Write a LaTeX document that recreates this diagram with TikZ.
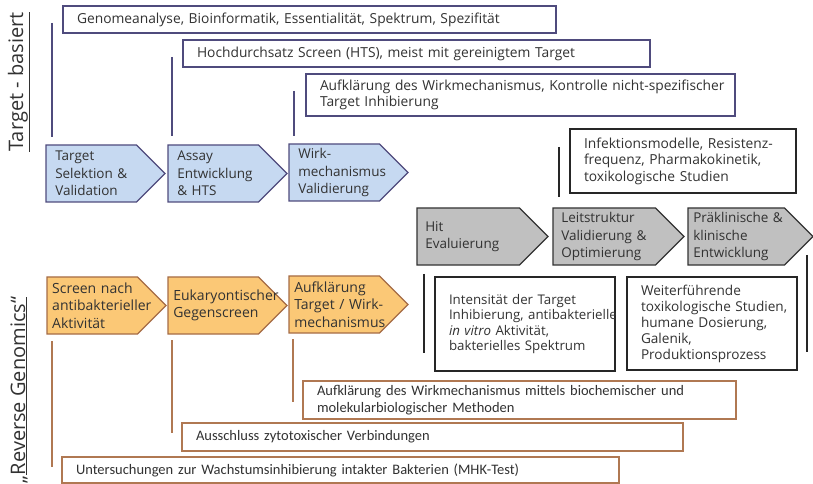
\documentclass[tikz,border=0pt]{standalone}
\usepackage{fontspec}
\setmainfont{Open Sans}
\newfontfamily\narrowfont{Carlito}
\usetikzlibrary{shapes.symbols}
\hyphenpenalty=10000
\exhyphenpenalty=10000
\definecolor{stageblue}{RGB}{198,217,241}
\definecolor{bluedraw}{RGB}{79,75,125}
\definecolor{stageorange}{RGB}{251,200,118}
\definecolor{orangedraw}{RGB}{165,108,70}
\definecolor{stagegray}{RGB}{192,192,192}
\definecolor{notebrown}{RGB}{176,120,82}
\definecolor{labelgray}{RGB}{50,50,50}
\begin{document}
\begin{tikzpicture}[x=1bp,y=-1bp,
		stage/.style={shape=signal, signal to=east, signal pointer angle=90, minimum width=119bp, minimum height=57bp, inner xsep=0pt, inner ysep=2bp, outer sep=0pt, anchor=north west, align=left, line width=1.2bp, text=labelgray, font=\fontsize{13.5bp}{17.5bp}\selectfont},
		bluestage/.style={stage, fill=stageblue, draw=bluedraw, text width=72bp},
		orangestage/.style={stage, fill=stageorange, draw=orangedraw, text width=80bp, font=\fontsize{14bp}{17.5bp}\selectfont},
		graystage/.style={stage, fill=stagegray, draw=black!80, minimum width=131bp, text width=86bp},
		note/.style={rectangle, anchor=north west, inner xsep=14bp, inner ysep=0pt, outer sep=0pt, align=left, fill=white, text=labelgray, font=\fontsize{13.8bp}{16.5bp}\selectfont},
		bluenote/.style={note, draw=bluedraw, line width=1.2bp},
		blacknote/.style={note, draw=black!85, line width=1.5bp},
		brownnote/.style={note, draw=notebrown, line width=1.5bp, font=\narrowfont\fontsize{14.5bp}{17bp}\selectfont},
		bar/.style={line width=1.3bp}
	]
	\useasboundingbox (0,0) rectangle (813,484);

	\node[rotate=90, text=labelgray, font=\fontsize{20bp}{24bp}\selectfont] (tb) at (19,82) {\underline{Target - basiert}};
	\node[rotate=90, text=labelgray, font=\fontsize{20bp}{24bp}\selectfont] (rg) at (19,390) {„\underline{Reverse Genomics“}};

	\node[bluenote, minimum width=493bp, minimum height=27bp, text width=465bp] (genom) at (63,6) {Genomeanalyse, Bioinformatik, Essentialität, Spektrum, Spezifität};
	\node[bluenote, minimum width=467bp, minimum height=27bp, text width=439bp] (hts) at (183,40) {Hochdurchsatz Screen (HTS), meist mit gereinigtem Target};
	\node[bluenote, minimum width=429bp, minimum height=42bp, text width=401bp] (wirk) at (306,74) {\mbox{Aufklärung des Wirkmechanismus, Kontrolle nicht-spezifischer}\\Target Inhibierung};
	\draw[bar, bluedraw] (52,23) -- (52,137);
	\draw[bar, bluedraw] (172,57) -- (172,136);
	\draw[bar, bluedraw] (294,91) -- (294,136);

	\node[bluestage] (sel) at (46,145) {Target\\\mbox{Selektion \&}\\Validation};
	\node[bluestage] (assay) at (168,145) {Assay\\Entwicklung\\\mbox{\& HTS}};
	\node[bluestage] (valid) at (289,144) {Wirk-\\mechanismus\\Validierung};

	\node[blacknote, minimum width=226bp, minimum height=64bp, text width=198bp] (infekt) at (570,129) {Infektionsmodelle, Resistenz-\\frequenz, Pharmakokinetik,\\toxikologische Studien};
	\draw[bar, black!85, line width=1.5bp] (559,147) -- (559,197);

	\node[graystage] (hit) at (417,208) {Hit\\Evaluierung};
	\node[graystage] (lead) at (553,208) {Leitstruktur\\\mbox{Validierung \&}\\Optimierung};
	\node[graystage, minimum width=125bp] (klin) at (688,208) {\mbox{Präklinische \&}\\klinische\\Entwicklung};

	\node[blacknote, minimum width=180bp, minimum height=94bp, text width=152bp, font=\fontsize{13.3bp}{15.5bp}\selectfont] (intens) at (435,277) {Intensität der Target\\\mbox{Inhibierung, antibakterielle}\\\textit{in vitro} Aktivität,\\bakterielles Spektrum};
	\node[blacknote, minimum width=170bp, minimum height=93bp, text width=142bp, font=\fontsize{13.6bp}{16bp}\selectfont] (weiter) at (627,277) {Weiterführende\\\mbox{toxikologische Studien,}\\humane Dosierung,\\Galenik,\\Produktionsprozess};
	\draw[bar, black!85, line width=1.5bp] (424,274) -- (424,353);
	\draw[bar, black!85, line width=1.5bp] (807,255) -- (807,352);

	\node[orangestage] (screen) at (47,277) {\mbox{Screen nach}\\antibakterieller\\Aktivität};
	\node[orangestage] (gegen) at (168,277) {Eukaryontischer\\Gegenscreen};
	\node[orangestage] (aufkl) at (289,276) {Aufklärung\\\mbox{Target / Wirk-}\\mechanismus};

	\draw[bar, notebrown] (52,341) -- (52,467);
	\draw[bar, notebrown] (172,340) -- (172,433);
	\draw[bar, notebrown] (293,339) -- (293,402);
	\node[brownnote, minimum width=433bp, minimum height=38bp, text width=405bp] (methoden) at (303,381) {Aufklärung des Wirkmechanismus mittels biochemischer und\\molekularbiologischer Methoden};
	\node[brownnote, minimum width=501bp, minimum height=28bp, text width=473bp] (zyto) at (182,423) {Ausschluss zytotoxischer Verbindungen};
	\node[brownnote, minimum width=557bp, minimum height=26bp, text width=529bp] (mhk) at (62,457) {Untersuchungen zur Wachstumsinhibierung intakter Bakterien (MHK-Test)};
\end{tikzpicture}
\end{document}
